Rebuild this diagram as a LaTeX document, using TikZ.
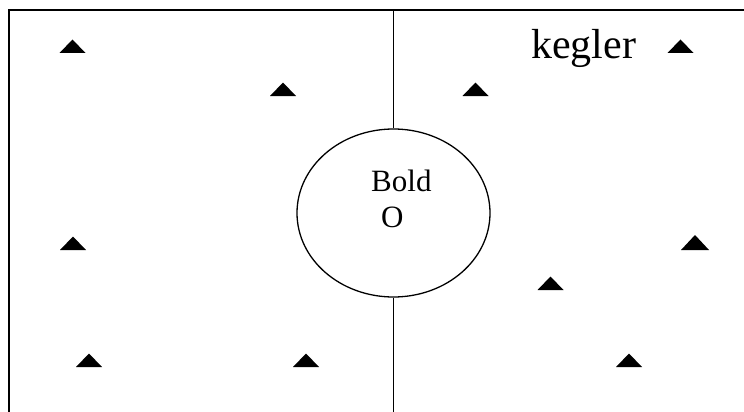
\documentclass[tikz,border=0pt]{standalone}
\usepackage{fontspec}
\setmainfont{Liberation Serif}
\usetikzlibrary{shapes.geometric}
\tikzset{
  cone/.pic={\fill[black] (-13,0) -- (0,-13.5) -- (13,0) -- cycle;},
  bigcone/.pic={\fill[black] (-14,0) -- (0,-15) -- (14,0) -- cycle;},
  frameline/.style={line width=2pt},
  midline/.style={line width=1.3pt},
  ballstyle/.style={ellipse, draw, line width=1.3pt, minimum width=193pt, minimum height=168pt, inner sep=0pt},
  lbl/.style={inner sep=0pt, anchor=base west}
}
\begin{document}
\begin{tikzpicture}[x=1pt,y=-1pt]
\useasboundingbox (0,0) rectangle (744,412);
% frame
\coordinate (tl) at (8.5,10);
\coordinate (tr) at (744,10);
\coordinate (bl) at (8.5,412);
\draw[frameline] (bl) -- (tl) -- (tr);
% ball and midline
\node[ballstyle] (ball) at (393.5,213) {};
\coordinate (midtop) at (393.5,10);
\coordinate (midbot) at (393.5,412);
\draw[midline] (midtop) -- (ball.north);
\draw[midline] (ball.south) -- (midbot);
\node[lbl, font=\fontsize{31}{31}\selectfont] (bold) at (371,191.5) {Bold};
\node[lbl, font=\fontsize{31}{31}\selectfont] (o) at (381,227) {O};
\node[lbl, font=\fontsize{42}{42}\selectfont] (kegler) at (531,59) {kegler};
% cones
\pic at (72.5,53) {cone};
\pic at (283,96) {cone};
\pic at (475.5,96) {cone};
\pic at (680.5,53) {cone};
\pic at (73,250) {cone};
\pic at (695,250) {bigcone};
\pic at (550.5,290) {cone};
\pic at (89,367) {cone};
\pic at (306,367) {cone};
\pic at (629,367) {cone};
\end{tikzpicture}
\end{document}
